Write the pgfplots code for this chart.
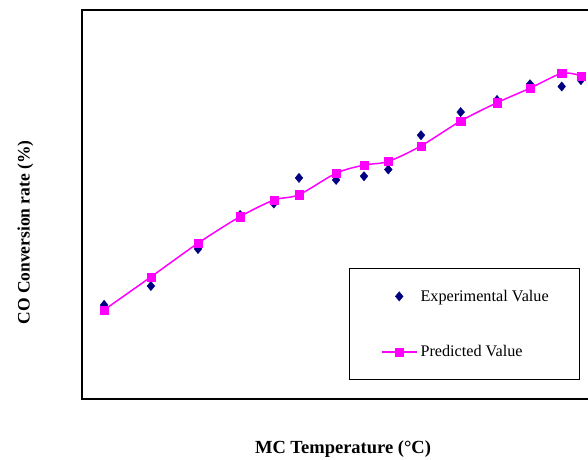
\documentclass[border=0pt]{standalone}
\usepackage{pgfplots}
\pgfplotsset{compat=1.18}
\usepackage{fontspec}
\setmainfont{Liberation Serif}
\definecolor{navyc}{RGB}{0,0,128}
\definecolor{pinkc}{RGB}{255,0,255}
\pgfplotsset{
  expleg/.style={legend image code/.code={\path[draw=none,fill=none] (0pt,0pt) -- (35pt,0pt);
    \draw[##1, draw=none] plot coordinates {(17.5pt,0pt)};}},
  predleg/.style={legend image code/.code={\draw[mark repeat=2,mark phase=2,##1, draw=pinkc, line width=1.5pt] plot coordinates {(0pt,0pt) (17.5pt,0pt) (35pt,0pt)};}},
}
\begin{document}
\begin{tikzpicture}[x=1pt,y=1pt]
\begin{axis}[
  x=1pt, y=1pt,
  xmin=81.9, xmax=610, ymin=59.8, ymax=448.9,
  at={(81.9pt,59.8pt)}, anchor=south west,
  xtick=\empty, ytick=\empty,
  axis line style={line width=1.6pt},
  legend cell align=left,
  legend style={at={(axis cs:381,169)}, anchor=north west, draw=none, fill=none,
    inner sep=0pt, outer sep=0pt, row sep=43pt, column sep=3pt,
    nodes={inner sep=0pt, outer sep=0pt},
    font=\fontsize{16.2}{19}\selectfont},
]
\draw[line width=0.8pt] (axis cs:349.3,190.7) rectangle (axis cs:579.3,80);
\addplot[only marks, mark=diamond*, mark size=4.7pt, color=navyc,
  mark options={line width=0.3pt, draw=navyc, xscale=1.12}, expleg]
coordinates {
(104.1,154.1) (150.9,173.0) (198.0,210.0) (240.1,244.0) (273.8,255.5)
(299.0,281.1) (336.1,279.1) (364.0,282.8) (388.3,289.5) (421.0,323.8)
(460.7,346.9) (497.0,359.0) (530.0,374.8) (561.7,372.5) (580.9,378.9)
};
\addlegendentry{Experimental Value}
\addplot[smooth, color=pinkc, line width=1.5pt, mark=square*, mark size=4.1pt,
  mark options={line width=0.3pt}, predleg]
coordinates {
(104.1,149.1) (150.9,182.1) (198.0,215.8) (240.1,242.4) (273.8,258.9)
(299.0,264.3) (336.1,285.8) (364.0,293.9) (388.3,297.6) (421.0,313.1)
(460.7,338.0) (497.0,356.3) (530.0,370.8) (561.7,385.6) (580.9,383.2)
};
\addlegendentry{Predicted Value}
\end{axis}
\node[rotate=90, font=\bfseries\fontsize{17.5}{20}\selectfont] at (25.5pt,226.5pt) {CO Conversion rate (\%)};
\node[anchor=base, font=\bfseries\fontsize{18.5}{21}\selectfont] at (343pt,6pt) {MC Temperature (°C)};
\pgfresetboundingbox
\path[use as bounding box] (0pt,0pt) rectangle (588pt,459pt);
\end{tikzpicture}
\end{document}
